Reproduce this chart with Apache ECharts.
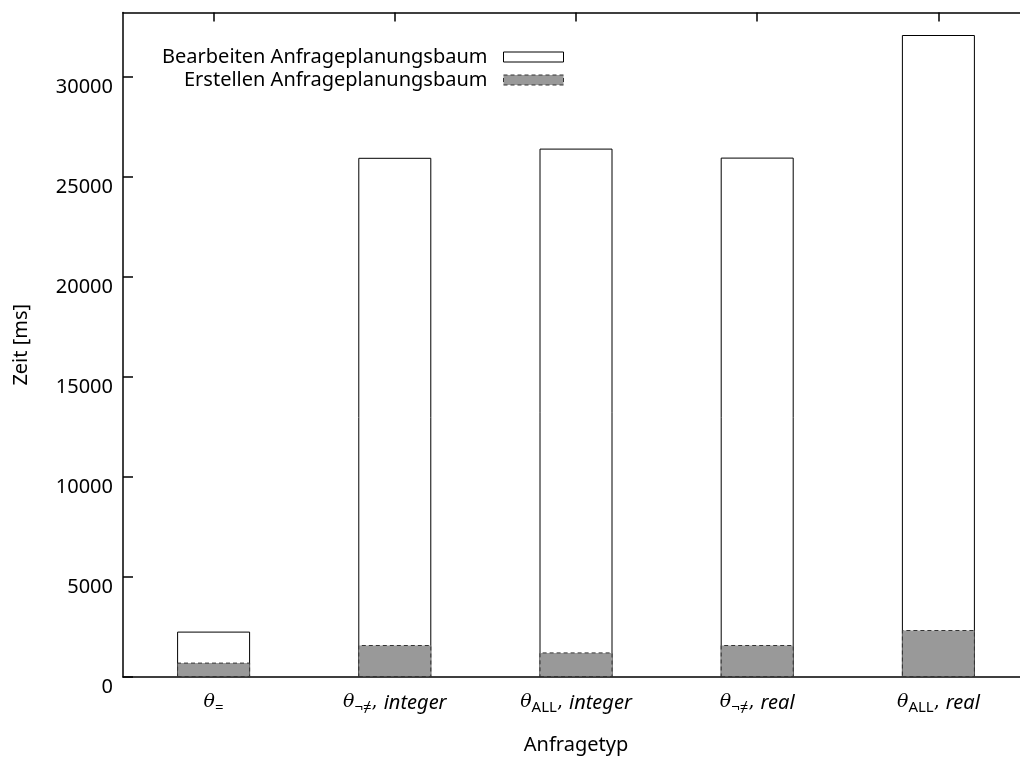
<!DOCTYPE html>
<html>
<head>
<meta charset="utf-8">
<script src="https://cdn.jsdelivr.net/npm/echarts@6/dist/echarts.min.js"></script>
<style>html,body{margin:0;padding:0;background:#fff;overflow:hidden;width:1020px;height:761px}#c{width:1029px;height:761px}</style>
</head>
<body>
<div id="c"></div>
<script>
// Data
const categories = ['eq', 'neq_int', 'all_int', 'neq_real', 'all_real'];
const categoryLabels = [
  '{th|θ}{sub|=}',
  '{th|θ}{sub|¬≠}{c|, }{it|integer}',
  '{th|θ}{sub|ALL}{c|, }{it|integer}',
  '{th|θ}{sub|¬≠}{c|, }{it|real}',
  '{th|θ}{sub|ALL}{c|, }{it|real}'
];
const bearbeiten = [2270, 25960, 26420, 25970, 32100];
const erstellen = [720, 1600, 1230, 1600, 2350];
const seriesNames = ['Bearbeiten Anfrageplanungsbaum', 'Erstellen Anfrageplanungsbaum'];
const yTicks = [0, 5000, 10000, 15000, 20000, 25000, 30000];

const FONT = 'Noto Sans';
const chart = echarts.init(document.getElementById('c'), null, {renderer: 'canvas'});
const labelMap = {};
categories.forEach((c, i) => labelMap[c] = categoryLabels[i]);

chart.setOption({
  animation: false,
  backgroundColor: '#fff',
  textStyle: {fontFamily: FONT},
  grid: {left: 123, top: 12.5, right: 0, bottom: 84, containLabel: false},
  legend: {
    orient: 'vertical',
    align: 'right',
    right: 465,
    top: 46,
    padding: 0,
    itemGap: 1,
    itemWidth: 60,
    itemHeight: 10,
    icon: 'rect',
    selectedMode: false,
    textStyle: {fontFamily: FONT, fontSize: 20, color: '#000', lineHeight: 22, padding: [0, 11, 0, 0]},
    data: [
      {name: seriesNames[0], itemStyle: {color: '#fff', borderColor: '#000', borderWidth: 1}},
      {name: seriesNames[1], itemStyle: {color: '#999', borderColor: '#333', borderWidth: 1, borderType: [4, 3]}}
    ]
  },
  xAxis: [
    {
      type: 'category',
      data: categories,
      position: 'bottom',
      name: 'Anfragetyp',
      nameLocation: 'middle',
      nameGap: 58,
      nameTextStyle: {fontFamily: FONT, fontSize: 20, color: '#000'},
      axisLine: {show: true, lineStyle: {color: '#000', width: 1.5}},
      axisTick: {show: false},
      axisLabel: {
        interval: 0,
        margin: 16,
        color: '#000',
        formatter: v => labelMap[v],
        rich: {
          th: {fontFamily: 'DejaVu Serif', fontStyle: 'italic', fontSize: 19, color: '#000', verticalAlign: 'top', lineHeight: 22},
          sub: {fontFamily: FONT, fontSize: 15, color: '#000', verticalAlign: 'bottom', lineHeight: 15, padding: [12, 0, 0, 0]},
          c: {fontFamily: 'DejaVu Serif', fontSize: 19, color: '#000', verticalAlign: 'top', lineHeight: 22},
          it: {fontFamily: FONT, fontStyle: 'italic', fontSize: 20, color: '#000', verticalAlign: 'top', lineHeight: 22}
        }
      },
      splitLine: {show: false}
    },
    {
      type: 'category',
      data: categories,
      position: 'top',
      axisLine: {show: true, lineStyle: {color: '#000', width: 1.5}},
      axisTick: {show: true, inside: true, length: 9, interval: 0, alignWithLabel: true, lineStyle: {color: '#000', width: 1.5}},
      axisLabel: {show: false, interval: 0},
      splitLine: {show: false}
    }
  ],
  yAxis: {
    type: 'value',
    min: 0,
    max: 33225,
    interval: 5000,
    name: 'Zeit [ms]',
    nameLocation: 'middle',
    nameGap: 92,
    nameTextStyle: {fontFamily: FONT, fontSize: 20, color: '#000'},
    axisLine: {show: true, lineStyle: {color: '#000', width: 1.5}},
    axisTick: {show: true, inside: true, length: 10, lineStyle: {color: '#000', width: 1.5}},
    axisLabel: {
      show: true, color: '#000', fontFamily: FONT, fontSize: 20, margin: 10,
      verticalAlign: 'top', showMaxLabel: false,
      formatter: v => (yTicks.indexOf(v) >= 0 ? String(v) : '')
    },
    splitLine: {show: false}
  },
  series: [
    {
      name: seriesNames[0],
      type: 'bar',
      xAxisIndex: 0,
      data: bearbeiten,
      barWidth: 73,
      barGap: '-100%',
      itemStyle: {color: '#fff', borderColor: '#000', borderWidth: 1}
    },
    {
      name: seriesNames[1],
      type: 'bar',
      xAxisIndex: 0,
      data: erstellen,
      barWidth: 73,
      barGap: '-100%',
      itemStyle: {color: '#999', borderColor: '#333', borderWidth: 1, borderType: [4, 3]}
    }
  ]
});
</script>
</body>
</html>
